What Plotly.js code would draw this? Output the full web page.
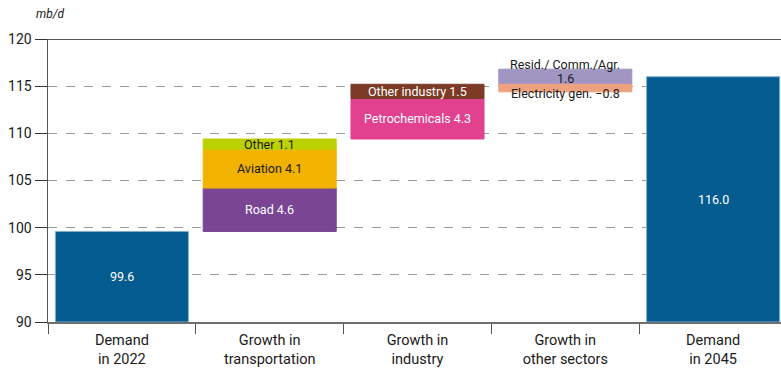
<!DOCTYPE html>
<html><head><meta charset="utf-8">
<script src="https://cdn.plot.ly/plotly-3.0.1.min.js"></script>
<style>html,body{margin:0;background:#fff;overflow:hidden}#c{width:788px;height:368px}</style>
</head><body><div id="c"></div>
<script>
const categories = ['Demand<br>in 2022','Growth in<br>transportation','Growth in<br>industry','Growth in<br>other sectors','Demand<br>in 2045'];
const demand2022 = 99.6;
const transportLabels = ['Road','Aviation','Other'];
const transportValues = [4.6, 4.1, 1.1];
const industryLabels = ['Petrochemicals','Other industry'];
const industryValues = [4.3, 1.5];
const otherLabels = ['Resid./ Comm./Agr.','Electricity gen.'];
const otherValues = [1.6, -0.8];
const demand2045 = 116.0;

const transportColors = ['#7a4592','#f2b200','#bdd100'];
const transportText = ['#ffffff','#1a1a1a','#1a1a1a'];
const industryColors = ['#e2418f','#7b3b27'];
const industryText = ['#ffffff','#ffffff'];
const otherColors = ['#a195c2','#eda27f'];

const traces = [];
const ann = [];
const W = 0.9;
const fnt = 'Roboto, "DejaVu Sans", sans-serif';

function addSeg(cat, base, val, color, lineColor){
  traces.push({type:'bar', x:[cat], y:[val], base:[base], width:W,
    marker:{color:color, line:{color:lineColor||color, width:1}},
    hoverinfo:'none', showlegend:false});
}
function addLabel(cat, y, text, color){
  ann.push({x:cat, y:y, xref:'x', yref:'y', text:text, showarrow:false, borderpad:0,
    font:{family:fnt, size:12.5, color:color}});
}

addSeg(categories[0], 90, demand2022-90, '#045b8f', '#7fb0cf');
addLabel(categories[0], (90+demand2022)/2, demand2022.toFixed(1), '#ffffff');

let level = demand2022;
transportValues.forEach((v,i)=>{
  addSeg(categories[1], level, v, transportColors[i]);
  addLabel(categories[1], level+v/2, transportLabels[i]+' '+v.toFixed(1), transportText[i]);
  level += v;
});
industryValues.forEach((v,i)=>{
  addSeg(categories[2], level, v, industryColors[i]);
  addLabel(categories[2], level+v/2, industryLabels[i]+' '+v.toFixed(1), industryText[i]);
  level += v;
});
let pos = level, neg = level;
otherValues.forEach((v,i)=>{
  if(v>=0){ addSeg(categories[3], pos, v, otherColors[i]); pos += v; }
  else { addSeg(categories[3], neg, v, otherColors[i]); neg += v; }
});
addLabel(categories[3], level+otherValues[0]/2-0.15, otherValues[0].toFixed(1), '#1a1a1a');
addLabel(categories[3], level+otherValues[0]+0.55, otherLabels[0], '#1a1a1a');
addLabel(categories[3], level+otherValues[1]-0.15, otherLabels[1]+' \u2212'+Math.abs(otherValues[1]).toFixed(1), '#1a1a1a');

addSeg(categories[4], 90, demand2045-90, '#045b8f', '#7fb0cf');
addLabel(categories[4], (90+demand2045)/2, demand2045.toFixed(1), '#ffffff');

ann.push({xref:'paper', yref:'paper', x:-0.019, y:1.055, xanchor:'left', yanchor:'bottom',
  text:'<i>mb/d</i>', showarrow:false, font:{family:fnt, size:12, color:'#1a1a1a'}});

const layout = {
  width:788, height:368,
  margin:{l:48, r:1, t:39, b:46},
  paper_bgcolor:'#fff', plot_bgcolor:'#fff',
  barmode:'overlay',
  font:{family:fnt, color:'#1a1a1a'},
  xaxis:{type:'category', tickson:'boundaries', ticks:'outside', ticklen:10, tickcolor:'#555',
    showline:true, linecolor:'#6e6e6e', linewidth:2, showgrid:false, ticklabelstandoff:4,
    tickfont:{family:fnt, size:14.5, color:'#1a1a1a'}, fixedrange:true},
  yaxis:{range:[90,120], dtick:5, ticks:'outside', ticklen:12, tickcolor:'#333',
    showline:true, linecolor:'#555', linewidth:1.5,
    showgrid:true, gridcolor:'#9a9a9a', griddash:'dash', gridwidth:1,
    zeroline:false, tickfont:{family:fnt, size:14, color:'#1a1a1a'}},
  shapes:[{type:'line', xref:'paper', yref:'y', x0:0, x1:1, y0:120, y1:120, line:{color:'#222', width:1.5}}],
  annotations:ann
};
Plotly.newPlot('c', traces, layout, {displayModeBar:false, staticPlot:true});
</script></body></html>
